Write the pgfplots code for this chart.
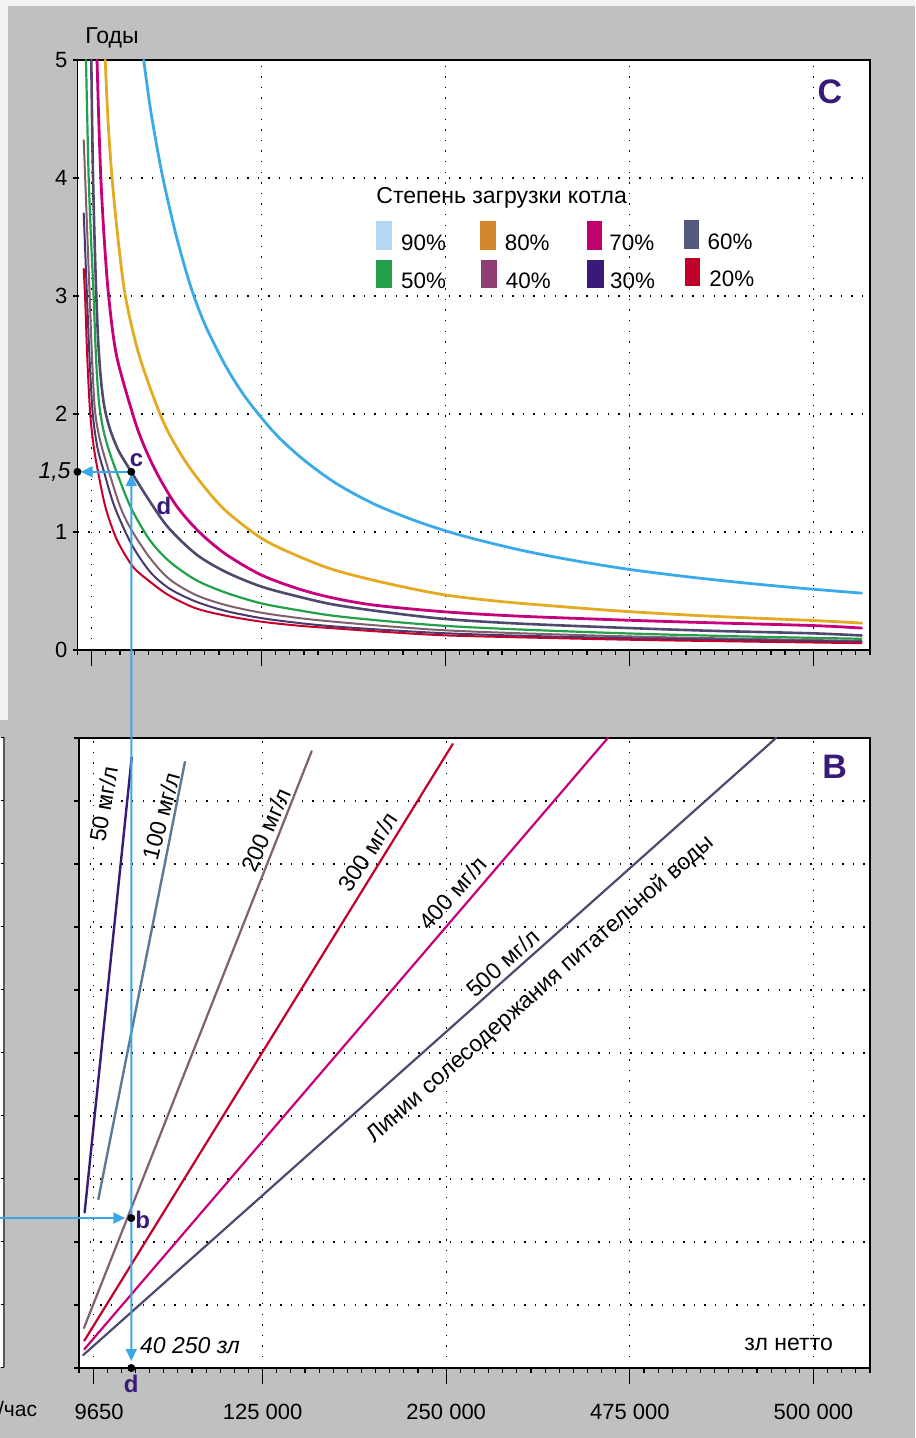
\documentclass[border=0pt]{standalone}
\usepackage{fontspec}
\setmainfont{Liberation Sans}
\usepackage{pgfplots}
\pgfplotsset{compat=1.18}
\usetikzlibrary{arrows.meta}
\definecolor{bgGray}{HTML}{C0C0C0}
\definecolor{bgLight}{HTML}{F3F3F3}
\definecolor{cBlue}{HTML}{3AAAE8}
\definecolor{cOrange}{HTML}{E4AA22}
\definecolor{cMagenta}{HTML}{C6007A}
\definecolor{cSlate}{HTML}{4E4A6E}
\definecolor{cGreen}{HTML}{22A04A}
\definecolor{cMauve}{HTML}{806070}
\definecolor{cDark}{HTML}{4A3A6C}
\definecolor{cRed}{HTML}{C4002E}
\definecolor{cPurple}{HTML}{3A1A78}
\definecolor{cSteel}{HTML}{5C7A96}
\definecolor{lgA}{HTML}{B4D8F4}
\definecolor{lgB}{HTML}{D4862A}
\definecolor{lgC}{HTML}{C0006E}
\definecolor{lgD}{HTML}{545A7E}
\definecolor{lgE}{HTML}{22A04A}
\definecolor{lgF}{HTML}{8E3E74}
\definecolor{lgG}{HTML}{3A1A78}
\definecolor{lgH}{HTML}{C0002A}
\definecolor{annBlue}{HTML}{3AA8E8}
\newcommand\fs[1]{\fontsize{#1}{#1}\selectfont}
\pgfplotsset{
  panel/.style={
    scale only axis, anchor=south west,
    xmin=0, xmax=56,
    axis background/.style={fill=white},
    axis line style={black, line width=0.75pt},
    tick align=outside, tick pos=left,
    xtick={1,13,26,39,52},
    minor xtick={0,...,56},
    major tick length=2.5pt, minor tick length=2.5pt,
    extra x ticks={1,13,26,39,52},
    extra x tick labels={},
    extra x tick style={major tick length=8pt, grid=none},
    tick style={black, line width=0.6pt},
    xmajorgrids, ymajorgrids,
    major grid style={black, line width=0.6pt, dash pattern=on 0.7pt off 4.6pt},
    clip=false,
    tick label style={font=\fs{11}},
    every axis plot/.append style={line join=round, line cap=round},
  },
}
\begin{document}
\begin{tikzpicture}
\useasboundingbox (0,0) rectangle (457.5pt,-719pt);
\clip (0,0) rectangle (457.5pt,-719pt);
\begin{scope}[x=0.5pt,y=-0.5pt]
\fill[bgLight] (0,0) rectangle (915,1438);
\fill[bgGray] (8,6) rectangle (915,720);
\fill[bgGray] (0,720) rectangle (915,1438);
\fill[white] (-5,737) rectangle (4,1367);
\draw[gray!70!black, line width=0.6pt] (4,737) -- (4,1367);
\foreach \k in {0,...,10} \draw[black, line width=0.5pt] (0.5,{1367-63*\k}) -- (4,{1367-63*\k});
\node[anchor=base east, inner sep=0pt, font=\fs{10.5}] at (37.5,1416.7) {т/час};
\node[font=\fs{11.5}] at (112,38) {Годы};
\end{scope}

% ---------------- panel C ----------------
\begin{axis}[panel, at={(38.75pt,-325pt)}, width=396.25pt, height=295pt,
  ymin=0, ymax=5, ytick={0,...,5}, yticklabels={0,1,2,3,4,5},
  xticklabels={},
  yticklabel style={xshift=1pt}]
% 90 %
\addplot[cBlue, line width=1.4pt, smooth] coordinates {
(4.68,5.00) (5.2,4.55) (6.0,4.02) (7.0,3.50) (8.0,3.08) (9.0,2.76) (10.5,2.40) (12.0,2.12)
(14.0,1.83) (16.0,1.61) (18.3,1.41) (21.0,1.235) (24.0,1.09) (27.0,0.975) (31.0,0.855)
(35.0,0.76) (39.0,0.683) (43.0,0.622) (47.0,0.570) (51.0,0.525) (55.4,0.482)};
% 80 %
\addplot[cOrange, line width=1.4pt, smooth] coordinates {
(1.96,5.0) (2.15,4.5) (2.44,4.0) (2.85,3.5) (3.38,3.0) (4.35,2.5) (5.83,2.0) (6.9,1.74)
(8.2,1.5) (10.3,1.2) (13.0,0.947) (15.5,0.8) (18.1,0.68) (21.5,0.575) (25.8,0.47)
(30.0,0.41) (35.0,0.36) (39.0,0.325) (45.0,0.285) (52.0,0.25) (55.4,0.228)};
% 70 %
\addplot[cMagenta, line width=1.4pt, smooth] coordinates {
(1.38,5.0) (1.50,4.5) (1.65,4.0) (1.88,3.5) (2.2,3.0) (2.75,2.5) (3.9,2.0) (4.6,1.76)
(5.6,1.5) (7.0,1.22) (8.6,1.0) (10.5,0.81) (13.0,0.635) (15.7,0.515) (18.1,0.44)
(21.0,0.38) (25.8,0.325) (31.0,0.288) (39.0,0.252) (45.0,0.23) (52.0,0.207) (55.4,0.186)};
% 60 %
\addplot[cSlate, line width=1.3pt, smooth] coordinates {
(0.975,5.0) (1.03,4.5) (1.10,4.0) (1.2,3.5) (1.33,3.0) (1.47,2.6) (1.65,2.3) (1.9,2.06)
(2.3,1.87) (2.9,1.69) (3.8,1.51) (5.0,1.28) (6.4,1.04) (8.4,0.81) (10.5,0.66) (13.0,0.537)
(15.7,0.45) (18.1,0.385) (21.5,0.325) (25.8,0.265) (31.0,0.225) (39.0,0.186) (45.0,0.162)
(52.0,0.141) (55.4,0.123)};
% 50 %
\addplot[cGreen, line width=1.1pt, smooth] coordinates {
(0.60,5.0) (0.69,4.5) (0.79,4.0) (0.95,3.5) (1.14,3.0) (1.3,2.5) (1.5,2.12) (1.8,1.88)
(2.2,1.7) (2.79,1.5) (3.8,1.2) (5.12,0.93) (6.5,0.75) (8.37,0.593) (10.5,0.485) (13.0,0.395)
(15.7,0.335) (18.1,0.29) (21.5,0.248) (25.8,0.206) (31.0,0.175) (39.0,0.14) (47.0,0.115) (55.4,0.095)};
% 40 %
\addplot[cMauve, line width=1pt, smooth] coordinates {
(0.44,4.32) (0.65,3.66) (0.86,3.0) (1.02,2.5) (1.22,2.05) (1.55,1.8) (2.2,1.52) (3.0,1.22)
(3.8,1.02) (5.12,0.78) (6.5,0.6) (8.37,0.466) (10.5,0.38) (13.0,0.316) (15.7,0.27) (18.1,0.24)
(21.5,0.205) (25.8,0.168) (31.0,0.143) (39.0,0.115) (47.0,0.095) (55.4,0.077)};
% 30 %
\addplot[cDark, line width=1pt, smooth] coordinates {
(0.44,3.70) (0.67,3.0) (0.86,2.45) (1.08,2.0) (1.4,1.72) (1.85,1.52) (2.6,1.22) (3.8,0.9)
(5.12,0.664) (6.5,0.52) (8.37,0.41) (10.5,0.33) (13.0,0.27) (15.7,0.228) (18.1,0.2)
(21.5,0.172) (25.8,0.143) (31.0,0.122) (39.0,0.1) (47.0,0.085) (55.4,0.07)};
% 20 %
\addplot[cRed, line width=1pt, smooth] coordinates {
(0.44,3.23) (0.55,2.95) (0.7,2.45) (0.9,2.0) (1.15,1.72) (1.5,1.48) (2.0,1.2) (2.8,0.93)
(3.92,0.706) (5.12,0.579) (6.5,0.46) (8.37,0.353) (10.5,0.29) (13.0,0.24) (15.7,0.205)
(18.1,0.184) (21.5,0.155) (25.8,0.125) (31.0,0.108) (39.0,0.087) (47.0,0.072) (55.4,0.058)};
\coordinate (cpt) at (axis cs:3.80,1.51);
\coordinate (ypt) at (axis cs:0,1.51);
\node[font=\bfseries\fs{12}, text=cPurple] at (axis cs:6.11,1.22) {d};
\node[font=\bfseries\fs{17}, text=cPurple] at (axis cs:53.17,4.73) {C};
\end{axis}

% ---------------- panel B ----------------
\begin{axis}[panel, at={(39.5pt,-684pt)}, width=395.5pt, height=315pt,
  ymin=0, ymax=10, ytick={0,...,10}, yticklabels={},
  xticklabels={\hspace*{6pt}9650,125 000,250 000,475 000,500 000},
  xticklabel style={yshift=-12pt}]
\addplot[cPurple, line width=1.2pt] coordinates {(0.40,2.47) (3.73,9.69)};
\addplot[cSteel, line width=1.2pt] coordinates {(1.37,2.68) (7.50,9.62)};
\addplot[cMauve, line width=1.1pt] coordinates {(0.35,0.635) (16.47,9.79)};
\addplot[cRed, line width=1.1pt] coordinates {(0.375,0.433) (26.46,9.905)};
\addplot[cMagenta, line width=1.1pt] coordinates {(0.375,0.297) (37.44,10.0)};
\addplot[cSlate, line width=1.1pt] coordinates {(0.30,0.206) (49.35,10.0)};
\coordinate (bpt) at (axis cs:3.70,2.38);
\coordinate (dpt) at (axis cs:3.70,0);
\coordinate (bleft) at (axis cs:-7,2.38);
\node[font=\itshape\fs{11.5}] at (axis cs:7.86,0.35) {40 250 зл};
\node[font=\fs{11.5}] at (axis cs:50.24,0.38) {зл нетто};
\node[font=\bfseries\fs{17}, text=cPurple] at (axis cs:53.5,9.54) {B};
\end{axis}

% ---------------- annotations ----------------
\draw[annBlue, line width=1pt, -{Triangle[length=6pt,width=5.5pt]}] (cpt) -- ([xshift=1.6pt]ypt);
\draw[annBlue, line width=1pt, {Triangle[length=6pt,width=5.5pt]}-{Triangle[length=6pt,width=5.5pt]}] ([yshift=-1.2pt]cpt) -- ([yshift=3.5pt]dpt);
\draw[annBlue, line width=1pt, -{Triangle[length=6pt,width=5.5pt]}] (bleft) -- ([xshift=-3pt]bpt);
\fill (cpt) circle (2pt);
\fill (ypt) circle (2pt);
\fill (bpt) circle (2pt);
\fill (dpt) circle (2pt);
\node[font=\bfseries\fs{12}, text=cPurple] at ([xshift=2.6pt,yshift=6pt]cpt) {c};
\node[font=\bfseries\fs{12}, text=cPurple] at ([xshift=5.7pt,yshift=-1pt]bpt) {b};
\node[font=\bfseries\fs{12}, text=cPurple] at ([yshift=-8pt]dpt) {d};
\node[anchor=east, inner sep=0pt, font=\itshape\fs{11.5}] at ([xshift=-3.3pt]ypt) {1,5};

\begin{scope}[x=0.5pt,y=-0.5pt]
% legend
\node[anchor=base west, inner sep=0pt, font=\fs{11.5}] at (376,203.5) {Степень загрузки котла};
\fill[lgA] (376.4,221.5) rectangle (392,250.2);
\fill[lgB] (480.4,221.5) rectangle (496,250.2);
\fill[lgC] (586.5,221.5) rectangle (601.8,250.2);
\fill[lgD] (683.6,220.3) rectangle (699.3,249.4);
\fill[lgE] (376.4,259.7) rectangle (392,287.7);
\fill[lgF] (481,259.7) rectangle (497,287.7);
\fill[lgG] (587.3,259.7) rectangle (603.6,287.7);
\fill[lgH] (684.7,258.5) rectangle (700,286.5);
\begin{scope}[every node/.style={anchor=base west, inner sep=0pt, font=\fs{11.2}}]
\node at (400.7,251) {90\%};
\node at (504.4,251) {80\%};
\node at (609,251) {70\%};
\node at (707.3,249.4) {60\%};
\node at (400.7,288.4) {50\%};
\node at (505.5,288.4) {40\%};
\node at (609.8,288.4) {30\%};
\node at (709,286.5) {20\%};
\end{scope}
% line labels
\begin{scope}[every node/.style={font=\fs{11.5}, inner sep=0pt}]
\node[rotate=80] at (103.5,804) {50 мг/л};
\node[rotate=75] at (161,816) {100 мг/л};
\node[rotate=66] at (266,830) {200 мг/л};
\node[rotate=57] at (368,852) {300 мг/л};
\node[rotate=48.5] at (452.7,893) {400 мг/л};
\node[rotate=42] at (502.5,963) {500 мг/л};
\node[rotate=41.3] at (540.5,989.5) {Линии солесодержания питательной воды};
\end{scope}
\end{scope}
\end{tikzpicture}
\end{document}
